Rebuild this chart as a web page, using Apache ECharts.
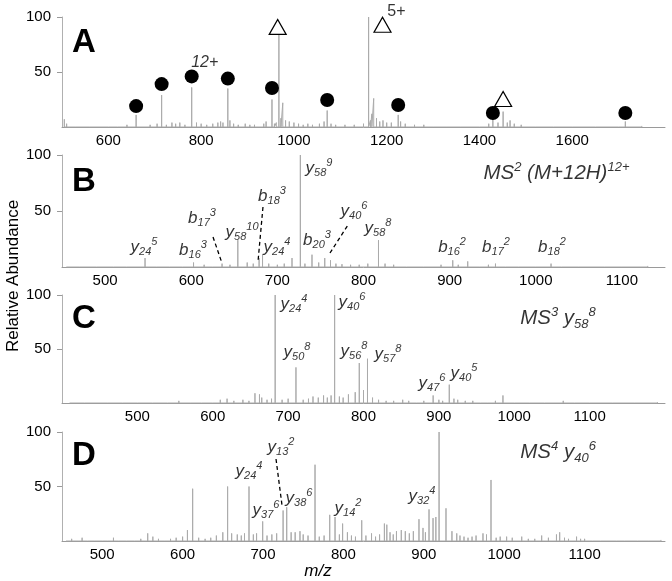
<!DOCTYPE html>
<html><head><meta charset="utf-8">
<script src="https://cdn.jsdelivr.net/npm/echarts@6/dist/echarts.min.js"></script>
<style>html,body{margin:0;padding:0;background:#fff}#c{width:672px;height:581px}</style>
</head><body><div id="c"></div>
<script>
// ---------- tick labels ----------
const ticksA = [600, 800, 1000, 1200, 1400, 1600];
const ticksB = [500, 600, 700, 800, 900, 1000, 1100];
const ticksC = [500, 600, 700, 800, 900, 1000, 1100];
const ticksD = [500, 600, 700, 800, 900, 1000, 1100];
const ticksY = [50, 100];

// ---------- panel A: full MS (m/z, relative abundance) ----------
const peaksA = [[505,7],[659.8,11],[714.8,29],[779.6,36],[857.5,35],[952.7,25],[967.6,84],[976,22],
  [1071.7,15],[1161,100],[1172,26],[1224.8,11],[1428.9,8],[1451,14],[1466,6],[1714.5,5]];
const noiseA = [[510,3],[530,1.5],[560,1],[600,1.5],[620,1],[640,2],[690,2],[705,3],[725,2],[737,4],[745,3],
  [754,4],[765,2],[790,4],[800,3],[812,2],[825,3],[836,4],[842,5],[847,4],[862,6],[870,3],[880,2],[895,3],
  [905,2],[915,2],[935,3],[940,5],[958,3],[962,4],[972,8],[982,6],[990,5],[1000,4],[1010,3],[1020,2],
  [1030,3],[1040,2],[1055,3],[1065,5],[1080,3],[1090,2],[1110,2],[1130,2],[1150,3],[1165,6],[1168,12],
  [1178,8],[1185,5],[1192,6],[1200,4],[1210,4],[1230,5],[1240,3],[1260,2],[1280,2],[1300,1.5],[1330,1],
  [1360,1],[1400,1.5],[1420,3],[1440,4],[1460,4],[1475,3],[1490,2],[1520,1],[1560,1],[1600,1],[1650,1],
  [1700,1],[1750,1]];
const circlesA = [[659.8,19],[714.8,39],[779.6,46],[857.5,44],[952.7,35.5],[1071.7,24.5],[1224.8,20],[1428.9,12.7],[1714.5,12.7]];
const trianglesA = [[965,91],[1191,93],[1451,25.5]];
const chargeLabelsA = [['12+', 807.8, 59, 'italic'], ['5+', 1221, 105, 'normal']];

// ---------- panel B: MS2 ----------
const peaksB = [[546.4,8],[602.7,4],[635.8,3],[654.1,24],[665,4],[678.8,8],[682.8,11],[717,8],[726.7,100],
  [740.2,11],[755,8],[761.7,6],[817.4,24],[903.6,6],[921,5],[953.2,3],[1017.7,3]];
const noiseB = [[455,1],[470,1.5],[490,1],[510,1.5],[525,1],[560,1.5],[575,1],[590,1.5],[615,2],[625,1.5],
  [645,2],[672,3],[690,3],[700,2],[708,3],[732,3],[748,4],[768,3],[775,2.5],[785,2],[795,2],[805,3],[825,3],
  [835,2],[850,1.5],[870,1.5],[890,2],[910,2],[935,1.5],[945,2],[965,1],[980,1],[1000,1],[1030,1],[1050,1],
  [1080,1],[1100,1],[1130,1]];
// [ion, subscript, superscript, m/z of label, height of label]
const annB = [['y','24','5',545.2,17.9],['b','16','3',602.1,15.2],['b','17','3',612.5,43.8],['y','58','10',659,31.3],
  ['b','18','3',693.8,63.4],['y','24','4',699.6,17.9],['y','58','9',748.4,88.4],['b','20','3',746,24.1],
  ['y','40','6',789,50],['y','58','8',816.8,34.8],['b','16','2',902.8,17.9],['b','17','2',953.8,17.9],['b','18','2',1018.8,17.9]];
const leadersB = [[[625.3,26.8],[635.7,3.6]], [[683.3,53.6],[677.5,4.5]], [[761.1,12.5],[782,37.5]]];
const titleB = ['MS','2',' (M+12H)','12+', 1024, 83.9];

// ---------- panel C: MS3 ----------
const peaksC = [[656,9],[662,8],[682.8,100],[710.4,33],[761.7,100],[773,5],[780,8],[789,10],[794.4,37],[805.3,41],
  [852,3],[892.4,7],[913.8,17],[985,7],[1065,2]];
const noiseC = [[410,1],[430,0.8],[460,1],[480,1],[500,1.5],[520,1],[540,1],[555,2],[570,1.5],[585,1],[600,1.5],
  [610,3],[619,4],[628,2],[640,3],[648,2],[665,5],[672,3],[678,4],[692,3],[700,4],[720,3],[727,4],[733,6],
  [740,5],[747,7],[752,5],[757,7],[768,6],[800,12],[812,5],[820,3],[830,2],[840,2],[860,2],[870,1.5],[880,2],
  [900,3],[905,2],[920,4],[925,3],[935,2],[945,2],[955,1.5],[965,1.5],[975,2],[1000,1.5],[1020,1],[1040,1],
  [1080,1],[1100,1],[1130,1],[1160,0.8],[1190,0.8]];
const annC = [['y','24','4',707.8,91.7],['y','50','8',711.8,47.2],['y','40','6',784.7,93.5],['y','56','8',787.4,48.1],
  ['y','57','8',832.5,45.4],['y','47','6',890.9,18.5],['y','40','5',933.3,27.8]];

// ---------- panel D: MS4 ----------
const peaksD = [[556.6,7],[563,4],[606,10],[612.5,48],[650,8],[656,50],[661,7],[682.6,50],[699.6,18],[711,6],
  [725,28],[729.5,31],[740,8],[746,9],[764.7,70],[783,24],[789.6,22],[799,16],[822.8,19],[851,16],[854,15],
  [872,10],[877,9],[894,20],[906.5,29],[911.5,21],[915,22],[919,100],[927.6,30],[935,9],[941,7],[973.6,7],
  [983.6,56],[995,4],[1003,4],[1021.8,4],[1046.6,5],[1065,6],[1069,8],[1090,4]];
const noiseD = [[455,1],[462,2],[470,1.5],[475,3],[482,1.5],[490,1],[500,1.5],[507,1],[514,3],[520,1.5],[530,1],
  [540,1.5],[548,2],[570,2],[578,1.5],[585,2],[592,3],[600,4],[620,3],[628,2],[635,3],[642,5],[668,6],[673,5],
  [677,7],[688,6],[692,7],[705,5],[717,7],[735,8],[750,6],[756,5],[770,4],[776,5],[795,6],[805,8],[810,5],
  [815,4],[828,5],[835,7],[840,4],[845,6],[858,8],[862,6],[866,9],[882,7],[887,9],[899,12],[902,8],[945,5],
  [950,4],[955,3],[960,4],[965,5],[978,6],[990,3],[1010,3],[1030,2],[1038,2],[1055,3],[1075,3],[1080,2],
  [1095,2],[1100,2],[1110,1.5],[1120,1],[1140,1.5],[1150,1],[1166,1.5],[1180,1],[1195,1]];
const annD = [['y','13','2',722.4,86.2],['y','24','4',682.6,64.2],['y','37','6',703.7,28.4],['y','38','6',744.8,39.4],
  ['y','14','2',805.7,30.3],['y','32','4',897.8,41.3]];
const leadersD = [[[716.2,75.2],[723.6,33.0]]];
const titleC = ['MS','3',' y','58','8', 1058, 78.7];
const titleD = ['MS','4',' y','40','6', 1067, 81.7];

// ---------- build ----------
const FONT = '"Liberation Sans", Arial, sans-serif';
const SPEC = '#ababab';
function sticks(list) {
  const s = list.slice().sort((a, b) => a[0] - b[0]);
  const out = [];
  s.forEach(([m, h]) => { out.push([m, 0], [m, h], [m, 0]); });
  return out;
}
const rich = {
  i: {fontFamily: FONT, fontSize: 17, fontStyle: 'italic', color: '#000', lineHeight: 21, verticalAlign: 'middle'},
  b: {fontFamily: FONT, fontSize: 11, fontStyle: 'italic', color: '#000', lineHeight: 10, verticalAlign: 'bottom'},
  p: {fontFamily: FONT, fontSize: 11, fontStyle: 'italic', color: '#000', lineHeight: 10, verticalAlign: 'top'},
  t: {fontFamily: FONT, fontSize: 20.5, fontStyle: 'italic', color: '#000', lineHeight: 25, verticalAlign: 'middle'},
  tp: {fontFamily: FONT, fontSize: 13, fontStyle: 'italic', color: '#000', lineHeight: 12, verticalAlign: 'top'},
  tb: {fontFamily: FONT, fontSize: 13, fontStyle: 'italic', color: '#000', lineHeight: 12, verticalAlign: 'bottom'},
  ni: {fontFamily: FONT, fontSize: 16, fontStyle: 'italic', color: '#000'},
  nn: {fontFamily: FONT, fontSize: 16, fontStyle: 'normal', color: '#000'}
};
function annSeries(idx, list) {
  return {
    type: 'scatter', xAxisIndex: idx, yAxisIndex: idx, symbolSize: 0, clip: false, silent: true, z: 5,
    data: list.map(a => ({value: [a[3], a[4]], label: {formatter: `{i|${a[0]}}{b|${a[1]}}{p|${a[2]}}`}})),
    label: {show: true, position: 'inside', rich: rich}
  };
}
function textSeries(idx, items) {
  return {
    type: 'scatter', xAxisIndex: idx, yAxisIndex: idx, symbolSize: 0, clip: false, silent: true, z: 5,
    data: items, label: {show: true, position: 'inside', rich: rich}
  };
}
function leaderSeries(idx, seg) {
  return {type: 'line', xAxisIndex: idx, yAxisIndex: idx, data: seg, showSymbol: false, silent: true, z: 4,
    lineStyle: {color: '#000', width: 1.3, type: [4, 3]}};
}
function specSeries(idx, peaks, noise) {
  return {type: 'line', xAxisIndex: idx, yAxisIndex: idx, data: sticks(peaks.concat(noise)), showSymbol: false,
    silent: true, z: 2, lineStyle: {color: SPEC, width: 1}};
}

const grids = [
  {left: 62, right: 7, top: 17, height: 110},
  {left: 62, right: 7, top: 155, height: 112},
  {left: 62, right: 7, top: 295, height: 108},
  {left: 62, right: 7, top: 432, height: 109}
];
const xr = [[500, 1800, ticksA], [450, 1150, ticksB], [400, 1200, ticksC], [450, 1200, ticksD]];
const xAxes = xr.map((r, i) => ({
  type: 'value', gridIndex: i, min: r[0], max: r[1],
  axisLine: {show: true, onZero: false, lineStyle: {color: '#9a9a9a', width: 1}},
  axisTick: {show: false},
  splitLine: {show: false},
  axisLabel: {customValues: r[2], formatter: v => String(v), margin: 6, color: '#000', fontFamily: FONT, fontSize: 15}
}));
const yAxes = grids.map((g, i) => ({
  type: 'value', gridIndex: i, min: 0, max: 100,
  axisLine: {show: true, lineStyle: {color: '#b0b0b0', width: 1}},
  axisTick: {show: true, customValues: ticksY, length: 5, lineStyle: {color: '#9a9a9a'}},
  splitLine: {show: false},
  axisLabel: {customValues: ticksY, formatter: v => String(v), margin: 11, color: '#000', fontFamily: FONT, fontSize: 15}
}));

const series = [
  specSeries(0, peaksA, noiseA),
  specSeries(1, peaksB, noiseB),
  specSeries(2, peaksC, noiseC),
  specSeries(3, peaksD, noiseD),
  {type: 'scatter', xAxisIndex: 0, yAxisIndex: 0, data: circlesA, symbol: 'circle', symbolSize: 14, clip: false,
    silent: true, itemStyle: {color: '#000', opacity: 1}, z: 6},
  {type: 'scatter', xAxisIndex: 0, yAxisIndex: 0, data: trianglesA, symbol: 'triangle', symbolSize: [17, 15], clip: false,
    silent: true, itemStyle: {color: '#fff', borderColor: '#000', borderWidth: 1.2, opacity: 1}, z: 6},
  textSeries(0, chargeLabelsA.map(c => ({value: [c[1], c[2]], label: {formatter: `{${c[3] === 'italic' ? 'ni' : 'nn'}|${c[0]}}`}}))),
  annSeries(1, annB), annSeries(2, annC), annSeries(3, annD),
  textSeries(1, [{value: [titleB[4], titleB[5]], label: {formatter: `{t|${titleB[0]}}{tp|${titleB[1]}}{t|${titleB[2]}}{tp|${titleB[3]}}`}}]),
  textSeries(2, [{value: [titleC[5], titleC[6]], label: {formatter: `{t|${titleC[0]}}{tp|${titleC[1]}}{t|${titleC[2]}}{tb|${titleC[3]}}{tp|${titleC[4]}}`}}]),
  textSeries(3, [{value: [titleD[5], titleD[6]], label: {formatter: `{t|${titleD[0]}}{tp|${titleD[1]}}{t|${titleD[2]}}{tb|${titleD[3]}}{tp|${titleD[4]}}`}}])
];
leadersB.forEach(s => series.push(leaderSeries(1, s)));
leadersD.forEach(s => series.push(leaderSeries(3, s)));

const panelLetters = [['A', 26], ['B', 165], ['C', 302], ['D', 439]];
const graphic = panelLetters.map(p => ({
  type: 'text', left: 72, top: p[1], silent: true,
  style: {text: p[0], font: `bold 33px ${FONT}`, fill: '#000'}
}));
graphic.push({type: 'text', x: 13, y: 276, rotation: Math.PI / 2, silent: true,
  style: {text: 'Relative Abundance', font: `17px ${FONT}`, fill: '#000', align: 'center', verticalAlign: 'middle'}});
graphic.push({type: 'text', x: 318, y: 571, silent: true,
  style: {text: 'm/z', font: `italic 17px ${FONT}`, fill: '#000', align: 'center', verticalAlign: 'middle'}});

const chart = echarts.init(document.getElementById('c'), null, {renderer: 'canvas'});
chart.setOption({
  animation: false,
  backgroundColor: '#fff',
  grid: grids,
  xAxis: xAxes,
  yAxis: yAxes,
  series: series,
  graphic: graphic
});
</script></body></html>
